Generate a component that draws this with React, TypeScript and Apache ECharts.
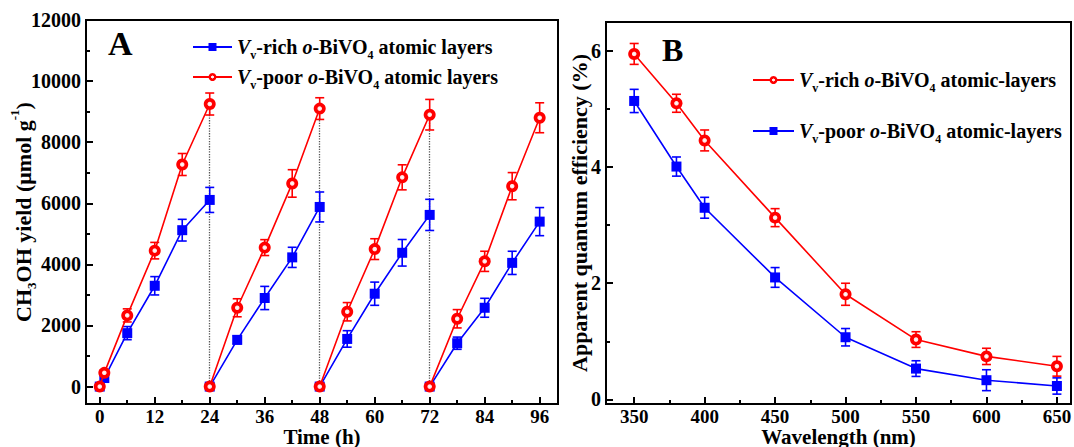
import React, { useEffect, useRef } from 'react';
import * as echarts from 'echarts';

const FONT = "'Liberation Serif', 'Times New Roman', serif";
const BLUE = '#0000ff';
const RED = '#ff0000';

// ---------- Panel A data ----------
const cycleTimes = [
  [0, 1, 6, 12, 18, 24],
  [24, 30, 36, 42, 48],
  [48, 54, 60, 66, 72],
  [72, 78, 84, 90, 96],
];
const richYield = [
  [0, 280, 1750, 3300, 5120, 6110],
  [0, 1530, 2900, 4230, 5880],
  [0, 1560, 3040, 4380, 5620],
  [0, 1420, 2580, 4050, 5400],
];
const richYieldErr = [
  [60, 100, 215, 300, 355, 410],
  [60, 130, 380, 330, 490],
  [60, 270, 380, 435, 510],
  [60, 200, 310, 380, 460],
];
const poorYield = [
  [0, 450, 2330, 4450, 7270, 9250],
  [0, 2580, 4550, 6650, 9100],
  [0, 2450, 4500, 6850, 8900],
  [0, 2220, 4100, 6560, 8800],
];
const poorYieldErr = [
  [60, 100, 215, 270, 360, 360],
  [60, 295, 260, 450, 355],
  [60, 300, 340, 410, 500],
  [60, 300, 330, 445, 490],
];
const cycleEnds = [24, 48, 72];
const timeTicks = [0, 12, 24, 36, 48, 60, 72, 84, 96];
const timeMinorTicks = [6, 18, 30, 42, 54, 66, 78, 90];
const yieldTicks = [0, 2000, 4000, 6000, 8000, 10000, 12000];
const yieldMinorTicks = [1000, 3000, 5000, 7000, 9000, 11000];

// ---------- Panel B data ----------
const wavelengths = [350, 380, 400, 450, 500, 550, 600, 650];
const richAQE = [5.95, 5.1, 4.46, 3.13, 1.81, 1.03, 0.74, 0.57];
const richAQEErr = [0.18, 0.155, 0.18, 0.155, 0.19, 0.135, 0.14, 0.17];
const poorAQE = [5.14, 4.01, 3.3, 2.1, 1.07, 0.53, 0.33, 0.23];
const poorAQEErr = [0.2, 0.165, 0.18, 0.17, 0.15, 0.135, 0.18, 0.14];
const wlTicks = [350, 400, 450, 500, 550, 600, 650];
const wlMinorTicks = [375, 425, 475, 525, 575, 625];
const aqeTicks = [0, 2, 4, 6];
const aqeMinorTicks = [1, 3, 5];

const legendA = ['Vv-rich o-BiVO4 atomic layers', 'Vv-poor o-BiVO4 atomic layers'];
const legendB = ['Vv-rich o-BiVO4 atomic-layers', 'Vv-poor o-BiVO4 atomic-layers'];

function cycleLine(vals: number[][]) {
  const out: any[] = [];
  cycleTimes.forEach((ts, c) => {
    ts.forEach((t, i) => out.push([t, vals[c][i]]));
    if (c < cycleTimes.length - 1) out.push([ts[ts.length - 1], '-']);
  });
  return out;
}
function cycleErr(vals: number[][], errs: number[][]) {
  const out: number[][] = [];
  cycleTimes.forEach((ts, c) => ts.forEach((t, i) => out.push([t, vals[c][i], errs[c][i]])));
  return out;
}

const richTok = {
  b: { fontFamily: FONT, fontWeight: 'bold', fontSize: 20, lineHeight: 28, verticalAlign: 'middle', color: '#000' },
  i: { fontFamily: FONT, fontWeight: 'bold', fontStyle: 'italic', fontSize: 20, lineHeight: 28, verticalAlign: 'middle', color: '#000' },
  s: { fontFamily: FONT, fontWeight: 'bold', fontSize: 12, lineHeight: 12, verticalAlign: 'bottom', color: '#000' },
};

function legendFmt(name: string) {
  const m = name.match(/^Vv(-\w+) o-BiVO4 (.*)$/);
  if (!m) return name;
  return `{i|V}{s|v}{b|${m[1]} }{i|o}{b|-BiVO}{s|4}{b| ${m[2]}}`;
}

const redMarkerFill = new echarts.graphic.RadialGradient(0.5, 0.5, 0.5, [
  { offset: 0, color: '#ffffff' },
  { offset: 0.3, color: '#ffe0e0' },
  { offset: 0.45, color: RED },
  { offset: 1, color: RED },
]);

function errorSeries(name: string, data: number[][], color: string, xi: number, yi: number) {
  return {
    type: 'custom',
    name: name + '_err',
    xAxisIndex: xi,
    yAxisIndex: yi,
    z: 1,
    silent: true,
    encode: { x: 0, y: 1 },
    data,
    renderItem: (_p: any, api: any) => {
      const x = api.value(0);
      const y = api.value(1);
      const e = api.value(2);
      const top = api.coord([x, y + e]);
      const bot = api.coord([x, y - e]);
      const w = 4.5;
      const style = { stroke: color, lineWidth: 1.6, fill: null };
      return {
        type: 'group',
        children: [
          { type: 'line', shape: { x1: top[0], y1: top[1], x2: bot[0], y2: bot[1] }, style },
          { type: 'line', shape: { x1: top[0] - w, y1: top[1], x2: top[0] + w, y2: top[1] }, style },
          { type: 'line', shape: { x1: bot[0] - w, y1: bot[1], x2: bot[0] + w, y2: bot[1] }, style },
        ],
      };
    },
  };
}

const labelStyle = { fontFamily: FONT, fontWeight: 'bold', fontSize: 20, color: '#000' };

function majorAxis(gridIndex: number, min: number, max: number, ticks: number[], extra: any = {}) {
  return {
    type: 'value',
    gridIndex,
    min,
    max,
    axisLine: { show: true, onZero: false, lineStyle: { color: '#000', width: 2 } },
    axisTick: { show: true, inside: true, length: 7, customValues: ticks, lineStyle: { color: '#000', width: 2 } },
    axisLabel: { ...labelStyle, lineHeight: 16, margin: 5, customValues: ticks, formatter: (v: number) => String(v) },
    splitLine: { show: false },
    nameMoveOverlap: false,
    ...extra,
  };
}
function minorAxis(gridIndex: number, min: number, max: number, ticks: number[], position: string) {
  return {
    type: 'value',
    gridIndex,
    min,
    max,
    position,
    axisLine: { show: false, onZero: false },
    axisTick: { show: true, inside: true, length: 4, customValues: ticks, lineStyle: { color: '#000', width: 2 } },
    axisLabel: { show: false },
    splitLine: { show: false },
  };
}

export default function App() {
  const ref = useRef<HTMLDivElement>(null);
  useEffect(() => {
    if (!ref.current) return;
    const chart = echarts.init(ref.current, undefined, { renderer: 'svg' });
    const nameStyleBase = { fontFamily: FONT, fontWeight: 'bold', fontSize: 22, lineHeight: 16, color: '#000' };
    const xNameStyle = { ...nameStyleBase, fontSize: 21 };
    const xLabel = { ...labelStyle, fontSize: 19, lineHeight: 16, margin: 4 };
    const axisNameRich = {
      b: { fontFamily: FONT, fontWeight: 'bold', fontSize: 22, lineHeight: 30, verticalAlign: 'middle', color: '#000' },
      sub: { fontFamily: FONT, fontWeight: 'bold', fontSize: 13, lineHeight: 13, verticalAlign: 'bottom', color: '#000' },
      sup: { fontFamily: FONT, fontWeight: 'bold', fontSize: 13, lineHeight: 13, verticalAlign: 'top', color: '#000' },
    };
    const option: any = {
      animation: false,
      backgroundColor: '#fff',
      grid: [
        { left: 86, top: 20, width: 472, height: 384, show: true, borderColor: '#000', borderWidth: 2, outerBoundsMode: 'none', containLabel: false },
        { left: 606, top: 22, width: 465, height: 382, show: true, borderColor: '#000', borderWidth: 2, outerBoundsMode: 'none', containLabel: false },
      ],
      xAxis: [
        majorAxis(0, -3, 100, timeTicks, {
          position: 'bottom',
          name: 'Time (h)',
          nameLocation: 'middle',
          nameGap: 24.5,
          nameTextStyle: xNameStyle,
        }),
        minorAxis(0, -3, 100, timeMinorTicks, 'bottom'),
        majorAxis(1, 330, 660, wlTicks, {
          position: 'bottom',
          name: 'Wavelength (nm)',
          nameLocation: 'middle',
          nameGap: 24.5,
          nameTextStyle: xNameStyle,
        }),
        minorAxis(1, 330, 660, wlMinorTicks, 'bottom'),
      ],
      yAxis: [
        majorAxis(0, -570, 12000, yieldTicks, {
          position: 'left',
          name: '{b|CH}{sub|3}{b|OH yield (μmol g}{sup|-1}{b|)}',
          nameLocation: 'middle',
          nameGap: 48,
          nameTextStyle: { ...nameStyleBase, lineHeight: 30, rich: axisNameRich },
        }),
        minorAxis(0, -570, 12000, yieldMinorTicks, 'left'),
        majorAxis(1, -0.08, 6.5, aqeTicks, {
          position: 'left',
          name: 'Apparent quantum efficiency (%)',
          nameLocation: 'middle',
          nameGap: 16,
          nameTextStyle: { ...nameStyleBase, lineHeight: 22 },
        }),
        minorAxis(1, -0.08, 6.5, aqeMinorTicks, 'left'),
      ],
      legend: [
        {
          orient: 'vertical',
          left: 187,
          top: 32,
          itemWidth: 39,
          itemHeight: 10,
          itemGap: 6,
          selectedMode: false,
          data: legendA,
          formatter: legendFmt,
          textStyle: { ...labelStyle, rich: richTok },
        },
        {
          orient: 'vertical',
          left: 747,
          top: 65,
          itemWidth: 41,
          itemHeight: 10,
          itemGap: 27,
          selectedMode: false,
          data: legendB,
          formatter: legendFmt,
          textStyle: { ...labelStyle, rich: richTok },
        },
      ],
      graphic: [
        {
          type: 'text',
          x: 108,
          y: 43,
          style: { text: 'A', fontFamily: FONT, fontWeight: 'bold', fontSize: 34, fill: '#000', textAlign: 'left', textVerticalAlign: 'middle' },
        },
        {
          type: 'text',
          x: 662,
          y: 50,
          style: { text: 'B', fontFamily: FONT, fontWeight: 'bold', fontSize: 32, fill: '#000', textAlign: 'left', textVerticalAlign: 'middle' },
        },
      ],
      series: [
        errorSeries('aRich', cycleErr(richYield, richYieldErr), BLUE, 0, 0),
        errorSeries('aPoor', cycleErr(poorYield, poorYieldErr), RED, 0, 0),
        {
          type: 'line',
          name: legendA[0],
          xAxisIndex: 0,
          yAxisIndex: 0,
          data: cycleLine(richYield),
          connectNulls: false,
          symbol: 'rect',
          symbolSize: 10,
          color: BLUE,
          lineStyle: { color: BLUE, width: 1.6 },
          itemStyle: { color: BLUE },
          z: 3,
        },
        {
          type: 'line',
          name: legendA[1],
          xAxisIndex: 0,
          yAxisIndex: 0,
          data: cycleLine(poorYield),
          connectNulls: false,
          symbol: 'circle',
          symbolSize: 12,
          showAllSymbol: true,
          color: RED,
          lineStyle: { color: RED, width: 1.6 },
          itemStyle: { color: redMarkerFill },
          z: 4,
          markLine: {
            silent: true,
            symbol: 'none',
            label: { show: false },
            z: 1,
            lineStyle: { type: 'dotted', color: '#555', width: 1.3 },
            data: cycleEnds.map((t, i) => [
              { coord: [t, 0] },
              { coord: [t, poorYield[i][poorYield[i].length - 1]] },
            ]),
          },
        },
        errorSeries('bRich', wavelengths.map((w, i) => [w, richAQE[i], richAQEErr[i]]), RED, 2, 2),
        errorSeries('bPoor', wavelengths.map((w, i) => [w, poorAQE[i], poorAQEErr[i]]), BLUE, 2, 2),
        {
          type: 'line',
          name: legendB[0],
          xAxisIndex: 2,
          yAxisIndex: 2,
          data: wavelengths.map((w, i) => [w, richAQE[i]]),
          symbol: 'circle',
          symbolSize: 12,
          color: RED,
          lineStyle: { color: RED, width: 1.6 },
          itemStyle: { color: redMarkerFill },
          z: 4,
        },
        {
          type: 'line',
          name: legendB[1],
          xAxisIndex: 2,
          yAxisIndex: 2,
          data: wavelengths.map((w, i) => [w, poorAQE[i]]),
          symbol: 'rect',
          symbolSize: 10,
          color: BLUE,
          lineStyle: { color: BLUE, width: 1.6 },
          itemStyle: { color: BLUE },
          z: 3,
        },
      ],
    };
    option.xAxis[0].axisLabel = { ...option.xAxis[0].axisLabel, ...xLabel };
    option.xAxis[2].axisLabel = { ...option.xAxis[2].axisLabel, ...xLabel };
    chart.setOption(option);
    return () => chart.dispose();
  }, []);
  return (
    <div
      ref={ref}
      style={{ position: 'absolute', left: 0, top: 0, width: 1074, height: 447, background: '#fff' }}
    />
  );
}
